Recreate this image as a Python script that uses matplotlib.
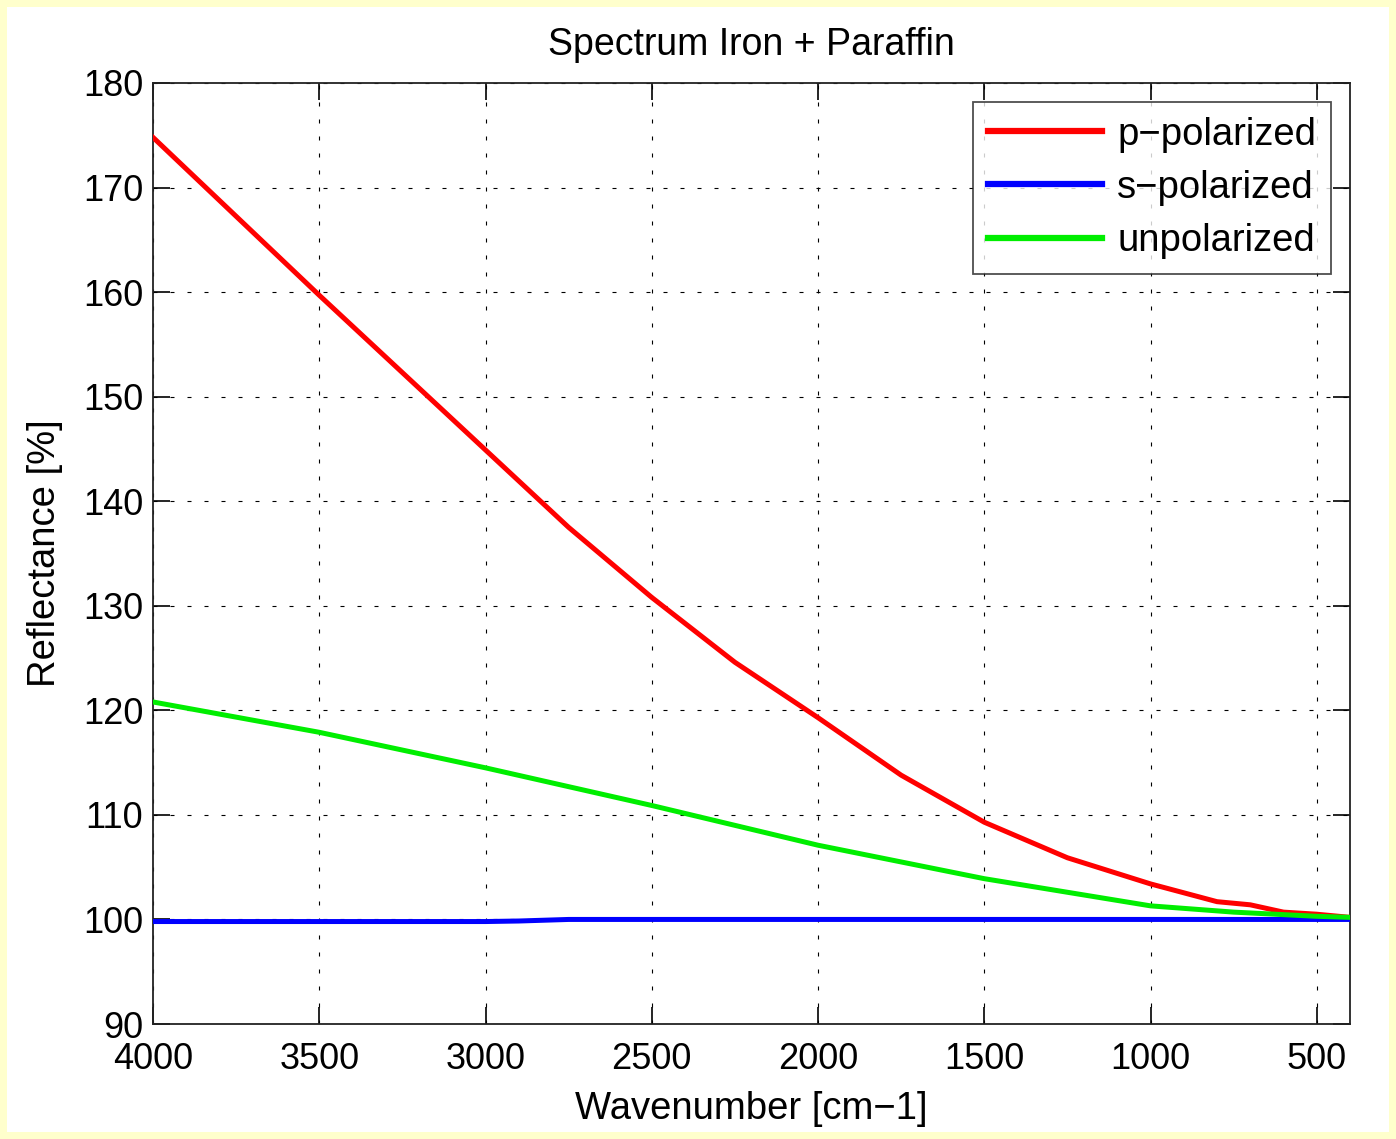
import matplotlib
matplotlib.use("Agg")
import matplotlib.pyplot as plt
from matplotlib.patches import Rectangle

plt.rcParams['font.family'] = ['Liberation Sans', 'DejaVu Sans']

# Data
wn_p = [4000, 3500, 3000, 2750, 2500, 2250, 2000, 1750, 1500, 1250, 1000, 800, 700, 600, 500, 400]
p_pol = [174.8, 159.7, 144.9, 137.5, 130.8, 124.6, 119.3, 113.8, 109.3, 105.9, 103.4, 101.7, 101.4, 100.7, 100.5, 100.2]

wn_u = [4000, 3500, 3000, 2500, 2000, 1500, 1250, 1000, 750, 500, 400]
unpol = [120.8, 117.9, 114.5, 110.9, 107.1, 103.9, 102.6, 101.3, 100.7, 100.3, 100.2]

wn_s = [4000, 3500, 3000, 2900, 2750, 2500, 2000, 1500, 1000, 500, 400]
s_pol = [99.8, 99.8, 99.8, 99.85, 100.0, 100.0, 100.0, 100.0, 100.0, 100.0, 100.0]

xticks = [4000, 3500, 3000, 2500, 2000, 1500, 1000, 500]
yticks = [90, 100, 110, 120, 130, 140, 150, 160, 170, 180]

fig = plt.figure(figsize=(13.96, 11.39), dpi=100)
fig.patch.set_facecolor('#ffffcc')
bg = Rectangle((7/1396, 7/1139), 1 - 14/1396, 1 - 14/1139,
               transform=fig.transFigure, facecolor='white',
               edgecolor='none', zorder=-10)
fig.patches.append(bg)

ax = fig.add_axes([153/1396, 1 - 1024/1139, (1350 - 153)/1396, (1024 - 83)/1139])
ax.set_zorder(5)

lw = 3.6
ax.plot(wn_p, p_pol, color='#ff0000', lw=lw, label='p\u2212polarized', zorder=3)
ax.plot(wn_s, s_pol, color='#0000ff', lw=lw, label='s\u2212polarized', zorder=3)
ax.plot(wn_u, unpol, color='#00ee00', lw=lw, label='unpolarized', zorder=4)

ax.set_xlim(4000, 400)
ax.set_ylim(90, 180)
ax.set_xticks(xticks)
ax.set_yticks(yticks)
ax.tick_params(direction='in', length=12, width=1.2, top=True, right=True,
               labelsize=26, colors='black')
ax.tick_params(axis='x', pad=13)
ax.tick_params(axis='y', pad=7)
ax.grid(True, color='black', linestyle=(0, (3.6, 11.7)), linewidth=0.8)
for s in ax.spines.values():
    s.set_linewidth(1.3)
    s.set_color('#222222')

ax.set_title('Spectrum Iron + Paraffin', fontsize=27, pad=20)
ax.set_xlabel('Wavenumber [cm\u22121]', fontsize=27.5, labelpad=10)
ax.set_ylabel('Reflectance [%]', fontsize=27.5, labelpad=14)

leg = ax.legend(loc='upper right', fontsize=27.5, frameon=True, fancybox=False,
                edgecolor='#222222', handlelength=3.0, handletextpad=0.4,
                borderaxespad=0.5, labelspacing=0.45, borderpad=0.38)
leg.get_frame().set_linewidth(1.3)
for line in leg.get_lines():
    line.set_linewidth(4.5)

fig.savefig('out.png', dpi=100, facecolor=fig.get_facecolor())
